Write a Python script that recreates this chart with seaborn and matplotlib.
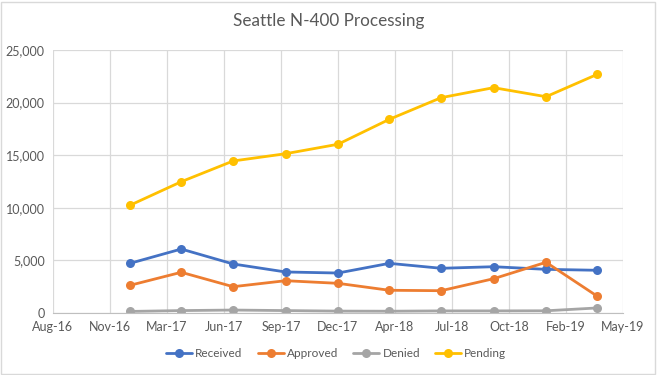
import matplotlib
matplotlib.use("Agg")
import matplotlib.pyplot as plt
import matplotlib.dates as mdates
import numpy as np
import pandas as pd
import seaborn as sns

# Quarter-end dates
dates = pd.to_datetime([
    "2016-12-31", "2017-03-31", "2017-06-30", "2017-09-30", "2017-12-31",
    "2018-03-31", "2018-06-30", "2018-09-30", "2018-12-31", "2019-03-31",
])

received = [4720, 6080, 4660, 3900, 3800, 4720, 4250, 4400, 4150, 4060]
approved = [2630, 3870, 2500, 3070, 2820, 2160, 2120, 3260, 4820, 1590]
denied = [150, 230, 280, 230, 180, 170, 200, 200, 210, 480]
pending = [10240, 12480, 14450, 15140, 16040, 18410, 20470, 21420, 20560, 22690]

series_names = ["Received", "Approved", "Denied", "Pending"]
series_colors = ["#4472C4", "#ED7D31", "#A5A5A5", "#FFC000"]

df = pd.DataFrame({"date": dates, "Received": received, "Approved": approved,
                   "Denied": denied, "Pending": pending})
long = df.melt(id_vars="date", var_name="status", value_name="count")

sns.set_style("white")
plt.rcParams["font.family"] = ["Lato", "DejaVu Sans"]

fig = plt.figure(figsize=(6.57, 3.75), dpi=100)
ax = fig.add_axes([53 / 657, 62 / 375, 570 / 657, 263 / 375])

sns.lineplot(data=long, x="date", y="count", hue="status", hue_order=series_names,
             palette=series_colors, marker="o", markersize=6.5, markeredgewidth=0,
             linewidth=2.0, ax=ax)

# Excel-style date axis: 100-day major unit
start = pd.Timestamp("2016-08-18")
ticks = [start + pd.Timedelta(days=100 * i) for i in range(11)]
ax.set_xlim(ticks[0], ticks[-1])
ax.set_xticks(ticks)
ax.xaxis.set_major_formatter(mdates.DateFormatter("%b-%y"))
ax.set_ylim(0, 25000)
ax.set_yticks(np.arange(0, 25001, 5000))
ax.yaxis.set_major_formatter(matplotlib.ticker.FuncFormatter(lambda v, p: f"{int(v):,}"))

ax.grid(True, color="#D9D9D9", linewidth=0.9)
for side in ["top", "right", "left"]:
    ax.spines[side].set_visible(False)
ax.spines["bottom"].set_color("#BFBFBF")
ax.tick_params(axis="both", length=0, labelsize=9, labelcolor="#595959", pad=6)
ax.set_xlabel("")
ax.set_ylabel("")

fig.text(0.5, 0.945, "Seattle N-400 Processing", ha="center", va="center",
         fontsize=12.3, color="#595959")

handles, labels = ax.get_legend_handles_labels()
ax.legend(handles, labels, loc="center", bbox_to_anchor=(0.5 - 0.003, -0.155),
          ncol=4, frameon=False, fontsize=8.5, labelcolor="#595959",
          handlelength=2.2, columnspacing=1.3, handletextpad=0.25)

# light chart border
border = plt.Rectangle((0.002, 0.003), 0.995, 0.993, transform=fig.transFigure,
                       fill=False, edgecolor="#D9D9D9", linewidth=1)
fig.patches.append(border)

fig.savefig("out.png", dpi=100)
